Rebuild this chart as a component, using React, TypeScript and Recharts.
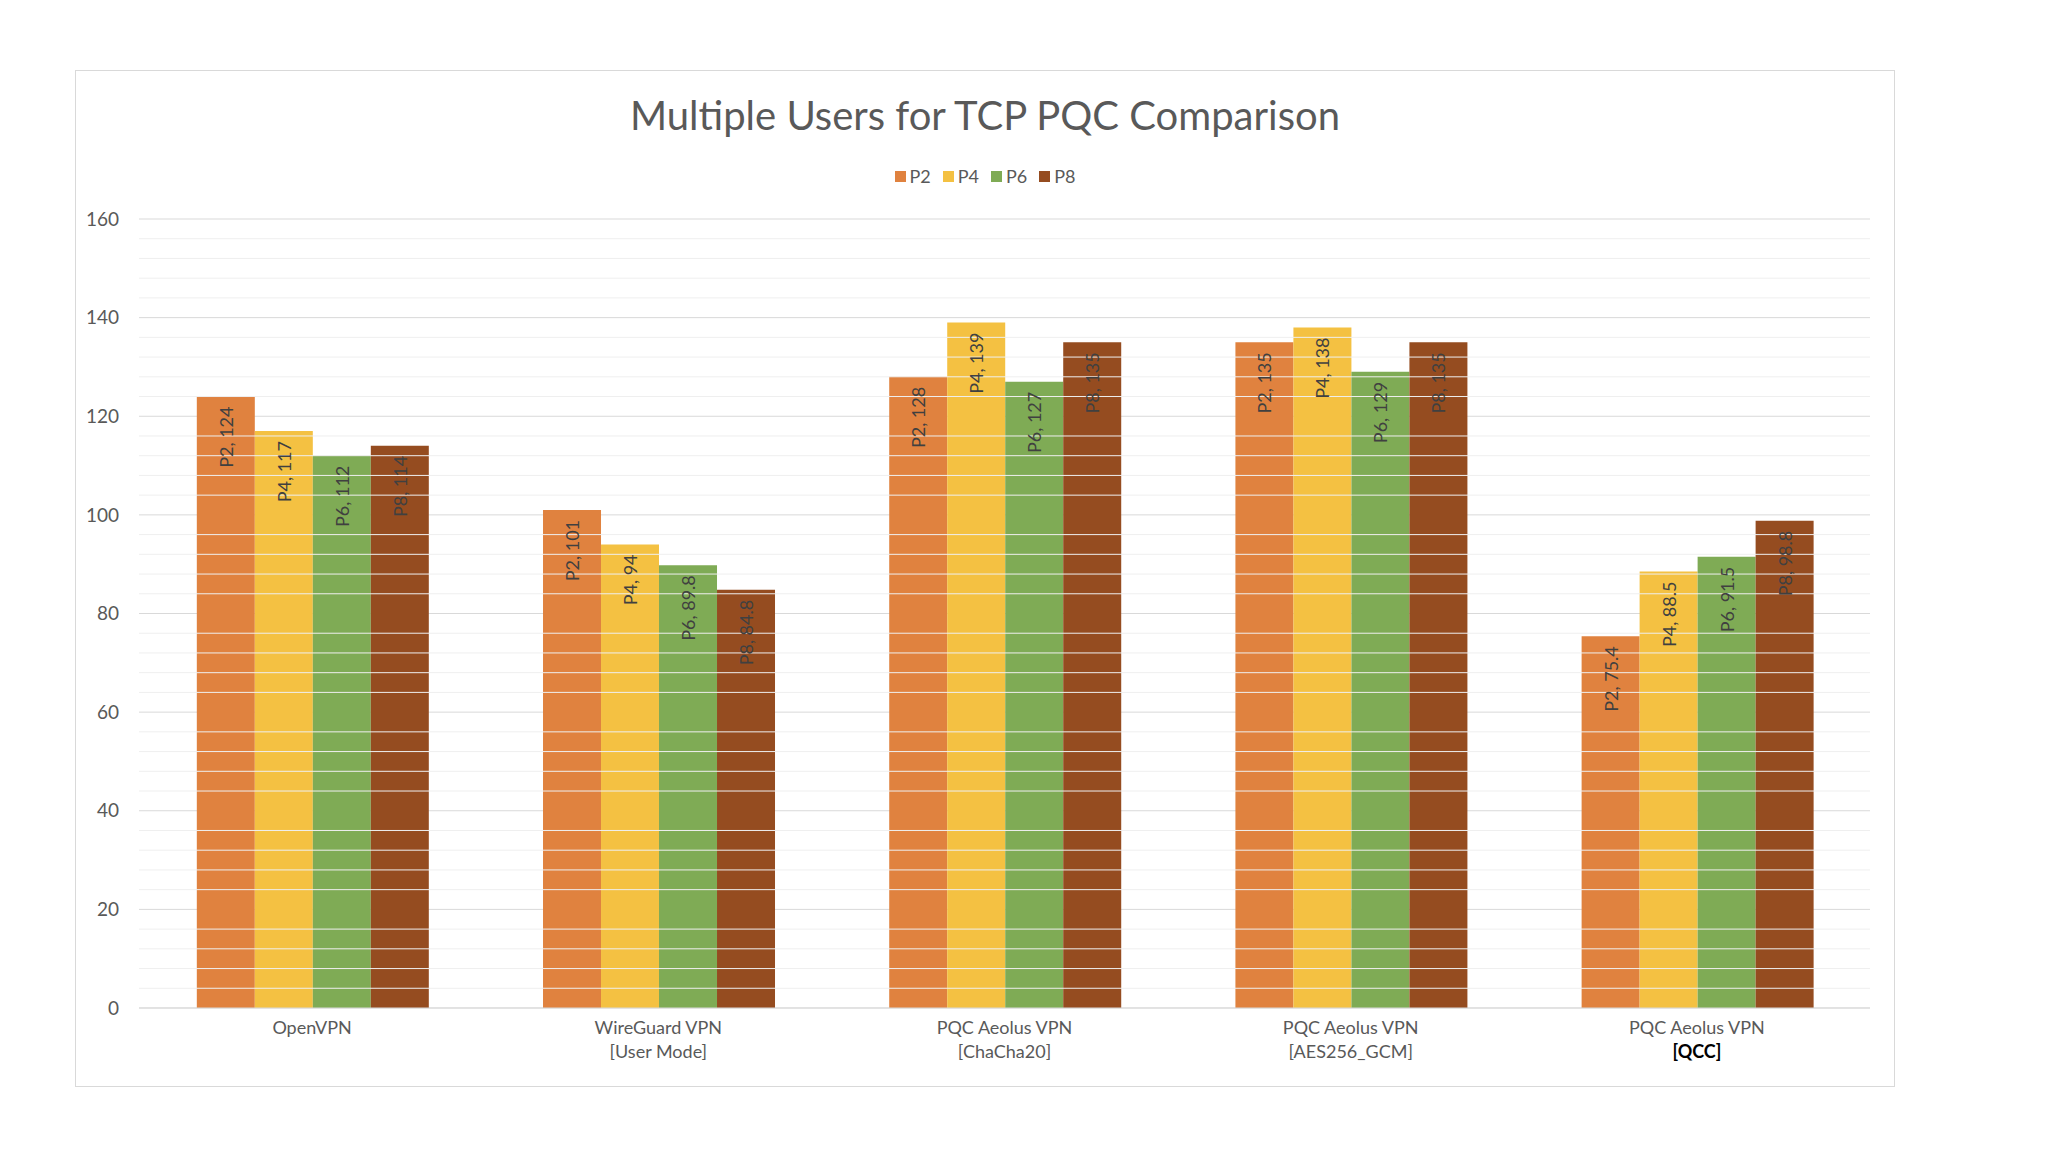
import React from 'react';
import { BarChart, Bar, XAxis, YAxis, CartesianGrid, ReferenceLine, LabelList } from 'recharts';

const categories = ['OpenVPN', 'WireGuard VPN|[User Mode]', 'PQC Aeolus VPN|[ChaCha20]', 'PQC Aeolus VPN|[AES256_GCM]', 'PQC Aeolus VPN|[QCC]'];
const p2 = [124, 101, 128, 135, 75.4];
const p4 = [117, 94, 139, 138, 88.5];
const p6 = [112, 89.8, 127, 129, 91.5];
const p8 = [114, 84.8, 135, 135, 98.8];
const yTicks = [0, 20, 40, 60, 80, 100, 120, 140, 160];
const minorTicks = [4, 8, 12, 16, 24, 28, 32, 36, 44, 48, 52, 56, 64, 68, 72, 76, 84, 88, 92, 96, 104, 108, 112, 116, 124, 128, 132, 136, 144, 148, 152, 156];

const series = [
  { key: 'P2', values: p2, color: '#E0823F' },
  { key: 'P4', values: p4, color: '#F4C142' },
  { key: 'P6', values: p6, color: '#7FAB55' },
  { key: 'P8', values: p8, color: '#954C20' },
];

const data = categories.map((c, i) => {
  const row: any = { name: c };
  series.forEach((s) => { row[s.key] = s.values[i]; });
  return row;
});

const FONT = 'Lato, "Open Sans", sans-serif';

const XTick = (props: any) => {
  const { x, y, payload } = props;
  const lines = String(payload.value).split('|');
  return (
    <g transform={`translate(${x},${y})`}>
      {lines.map((l, i) => (
        <text key={i} x={0} y={18 + i * 24} textAnchor="middle" fill={l === '[QCC]' ? '#000' : '#595959'}
          fontWeight={l === '[QCC]' ? 700 : 400} fontSize={18} fontFamily={FONT}>{l}</text>
      ))}
    </g>
  );
};

const makeLabel = (name: string) => (props: any) => {
  const { x, y, width, value } = props;
  const cx = x + width / 2;
  const ty = y + 10;
  return (
    <text x={cx} y={ty} transform={`rotate(-90 ${cx} ${ty})`} textAnchor="end" dominantBaseline="central"
      fill="#404040" fontSize={18} fontFamily={FONT}>{`${name}, ${value}`}</text>
  );
};

export default function App() {
  return (
    <div style={{ position: 'relative', width: 2032, height: 1150 }}>
      <div style={{ position: 'absolute', left: 67, top: 62, width: 1818, height: 1015, border: '1px solid #d9d9d9', background: '#fff' }}>
        <div style={{ position: 'absolute', top: 20, width: '100%', textAlign: 'center', fontFamily: FONT, fontSize: 40, color: '#595959' }}>
          Multiple Users for TCP PQC Comparison
        </div>
        <div style={{ position: 'absolute', top: 94, width: '100%', display: 'flex', justifyContent: 'center', gap: 12, fontFamily: FONT, fontSize: 18, color: '#595959' }}>
          {series.map((s) => (
            <span key={s.key} style={{ display: 'flex', alignItems: 'center' }}>
              <span style={{ width: 11, height: 11, background: s.color, display: 'inline-block', marginRight: 4 }} />{s.key}
            </span>
          ))}
        </div>
        <BarChart width={1818} height={1015} data={data} margin={{ top: 148, right: 24, bottom: 0, left: 0 }}
          barCategoryGap="16.7%" barGap={0}>
          {minorTicks.map((t) => (
            <ReferenceLine key={t} y={t} stroke="#efefef" strokeWidth={1} />
          ))}
          <CartesianGrid vertical={false} stroke="#d9d9d9" />
          <XAxis dataKey="name" tick={<XTick />} tickLine={false} axisLine={{ stroke: '#d9d9d9' }} height={78} interval={0} />
          <YAxis domain={[0, 160]} ticks={yTicks} width={63} axisLine={false} tickLine={false}
            tick={{ fill: '#595959', fontSize: 19, fontFamily: FONT }} tickMargin={14} />
          {series.map((s) => (
            <Bar key={s.key} dataKey={s.key} fill={s.color} isAnimationActive={false}>
              <LabelList dataKey={s.key} content={makeLabel(s.key)} />
            </Bar>
          ))}
        </BarChart>
      </div>
    </div>
  );
}
